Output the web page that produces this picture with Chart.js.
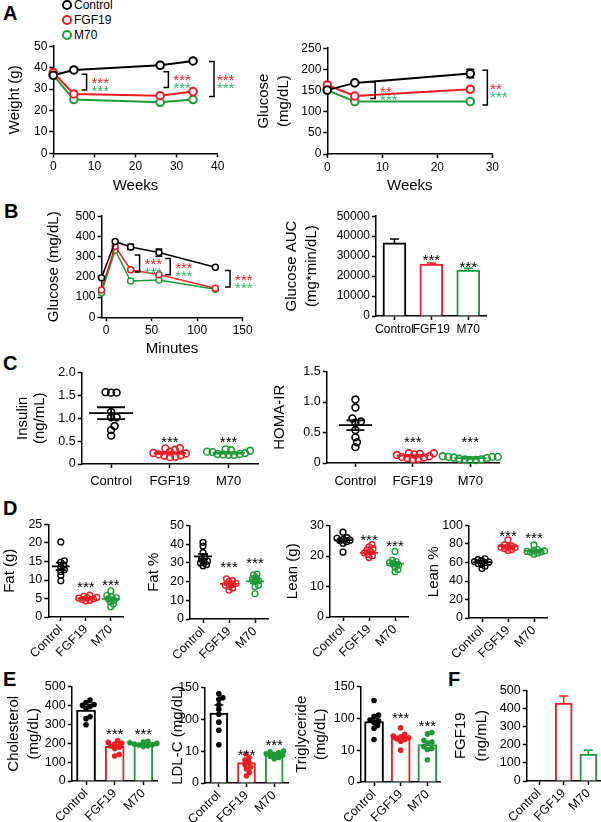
<!DOCTYPE html>
<html>
<head>
<meta charset="utf-8">
<script src="https://cdn.jsdelivr.net/npm/chart.js"></script>
<style>
  body { margin: 0; width: 601px; height: 822px; background: #fff; position: relative; overflow: hidden;
         font-family: "Liberation Sans", Arial, Helvetica, sans-serif; }
  canvas { position: absolute; }
  .letter { position: absolute; font-weight: bold; font-size: 20px; line-height: 20px; }
  .leg { position: absolute; left: 74px; font-size: 12px; line-height: 14px; white-space: nowrap; }
  .dot { position: absolute; left: 62px; width: 6px; height: 6px; border: 2px solid; border-radius: 50%; }
</style>
</head>
<body>
<div class="letter" style="left:3px;top:2.5px">A</div>
<div class="letter" style="left:4px;top:200.5px">B</div>
<div class="letter" style="left:3px;top:352.5px">C</div>
<div class="letter" style="left:3px;top:497.5px">D</div>
<div class="letter" style="left:3px;top:669px">E</div>
<div class="letter" style="left:448px;top:669px">F</div>

<div class="dot" style="top:0px;border-color:#000"></div><div class="leg" style="top:-2px">Control</div>
<div class="dot" style="top:15px;border-color:#ed1c24"></div><div class="leg" style="top:13px">FGF19</div>
<div class="dot" style="top:30px;border-color:#1e9a38"></div><div class="leg" style="top:28px">M70</div>

<script>
// ---------- data ----------
const groups = ['Control', 'FGF19', 'M70'];

// A: body weight / fasting glucose over time
const weightWeeks = [0, 5, 26, 34];
const weightControl = [36.4, 38.9, 41.1, 43.1];
const weightFGF19 = [37.7, 27.7, 26.9, 28.8];
const weightM70 = [36.4, 25.1, 23.8, 25.1];

const glucoseWeeks = [0, 5, 26];
const glucoseControl = [151, 168, 190];
const glucoseControlSem = [0, 4, 10];
const glucoseFGF19 = [163, 137, 153];
const glucoseM70 = [151, 124, 124];

// B: glucose tolerance test
const gttMinutes = [-5, 10, 27, 58, 120];
const gttControl = [195, 375, 348, 320, 248];
const gttControlSem = [0, 0, 13, 18, 0];
const gttFGF19 = [135, 351, 235, 211, 144];
const gttM70 = [122, 332, 179, 184, 139];

const aucMean = [36600, 26000, 23000];
const aucSem = [1950, 600, 900];

// C: insulin / HOMA-IR
const insulinControl = [1.56, 1.56, 1.57, 1.14, 1.02, 1.02, 0.83, 0.74, 0.62];
const insulinFGF19 = [0.35, 0.34, 0.31, 0.27, 0.24, 0.21, 0.18, 0.16, 0.15, 0.19, 0.23];
const insulinM70 = [0.32, 0.30, 0.29, 0.26, 0.24, 0.22, 0.21, 0.20, 0.20, 0.22, 0.27];
const insulinMean = [1.11, 0.24, 0.24];
const insulinSem = [0.13, 0.02, 0.01];

const homaControl = [1.04, 0.91, 0.73, 0.68, 0.66, 0.54, 0.42, 0.34, 0.26];
const homaFGF19 = [0.16, 0.16, 0.15, 0.13, 0.11, 0.09, 0.07, 0.06, 0.08, 0.10, 0.14];
const homaM70 = [0.11, 0.10, 0.10, 0.09, 0.07, 0.06, 0.05, 0.05, 0.06, 0.08, 0.10];
const homaMean = [0.62, 0.12, 0.08];
const homaSem = [0.08, 0.01, 0.01];

// D: body composition
const fatControl = [20.3, 15.2, 14.8, 14.0, 13.4, 12.8, 12.3, 11.3, 9.8];
const fatFGF19 = [5.9, 5.6, 5.3, 5.2, 5.1, 4.9, 4.7, 4.5, 4.3];
const fatM70 = [7.1, 5.8, 5.5, 5.2, 4.9, 4.5, 4.1, 3.5, 2.8];
const fatMean = [13.7, 5.0, 4.9];
const fatSem = [1.0, 0.2, 0.4];

const fatPctControl = [41, 39, 35.5, 33, 32, 31, 30.5, 30, 29, 28.5];
const fatPctFGF19 = [21.5, 20.5, 20, 19, 18.5, 18, 17.5, 16.5, 15.5];
const fatPctM70 = [24, 23.5, 22, 21.5, 20.5, 20, 18, 17.3, 13.5];
const fatPctMean = [33.5, 18.8, 20.1];
const fatPctSem = [1.3, 0.6, 1.1];

const leanControl = [27.8, 26, 25.8, 25.5, 25.2, 25, 24.7, 24.2, 21.3];
const leanFGF19 = [23.7, 23, 22.4, 22, 21.5, 21, 20.6, 20, 19.5];
const leanM70 = [21.5, 18.6, 18.2, 17.8, 17.4, 17, 16.4, 15.6, 14.8];
const leanMean = [25.2, 21.0, 17.5];
const leanSem = [0.6, 0.4, 0.6];

const leanPctControl = [64, 63, 62, 61, 60.5, 60, 59, 58, 56, 53.5];
const leanPctFGF19 = [84.5, 79, 78, 77, 76.5, 76, 75, 74, 73];
const leanPctM70 = [79, 74, 73, 72.5, 72, 71.5, 71, 70, 69];
const leanPctMean = [60.5, 77.5, 72.5];
const leanPctSem = [1.0, 1.1, 0.9];

// E: plasma lipids
const cholControl = [428, 415, 405, 400, 395, 385, 340, 330, 298];
const cholFGF19 = [213, 205, 200, 195, 185, 180, 172, 140, 132];
const cholM70 = [210, 206, 202, 199, 196, 193, 190, 186, 182];
const cholMean = [375, 183, 192];
const cholSem = [15, 10, 3];

const ldlControl = [140, 134, 131, 123, 116, 108, 92, 69, 28];
const ldlFGF19 = [9.1, 8.0, 7.2, 6.5, 5.7, 5.0, 4.4, 3.3, 2.3];
const ldlM70 = [10.2, 9.8, 9.5, 9.2, 9.0, 8.7, 8.4, 8.0, 7.6];
const ldlMean = [110, 6.4, 9.1];
const ldlSem = [12.5, 0.8, 0.3];

const tgControl = [128, 105, 103, 95, 92, 88, 80, 72, 40];
const tgFGF19 = [73, 55, 50, 48, 45, 42, 40, 35, 10];
const tgM70 = [60, 56, 38, 33, 30, 20, 15, 12, 7];
const tgMean = [91, 44, 26];
const tgSem = [8, 5, 6];

// F: plasma FGF19
const fgf19Mean = [0, 430, 149];
const fgf19Sem = [0, 39, 21];

// segmented axis (0-10, 10-100, 100-150) used by LDL-C and triglyceride
const segTicks = [0, 10, 100, 150];

// significance marks
const RED = '#ed1c24';
const GREEN = '#1e9a38';
const STAR_GREEN = '#2db56e';
const groupColors = ['#000000', RED, GREEN];

const weightBrackets = [
  {x: 8.1, y1: 36.9, y2: 29.5, sx: 9.3, rows: [['***', RED, 34.6], ['***', STAR_GREEN, 30.7]]},
  {x: 28.0, y1: 38.1, y2: 30.7, sx: 29.2, rows: [['***', RED, 36.1], ['***', STAR_GREEN, 32.0]]},
  {x: 39.1, y1: 42.8, y2: 26.5, sx: 39.8, rows: [['***', RED, 36.1], ['***', STAR_GREEN, 32.0]]}
];
const glucoseBrackets = [
  {x: 8.7, y1: 170, y2: 131, sx: 9.6, rows: [['**', RED, 155], ['***', STAR_GREEN, 135]]},
  {x: 29.1, y1: 198, y2: 116, sx: 29.6, rows: [['**', RED, 163], ['***', STAR_GREEN, 143]]}
];
const gttBrackets = [
  {x: 36.8, y1: 308, y2: 224, sx: 42.3, rows: [['***', RED, 279], ['***', STAR_GREEN, 238]]},
  {x: 70.4, y1: 291, y2: 211, sx: 75.9, rows: [['***', RED, 264], ['***', STAR_GREEN, 223]]},
  {x: 136.1, y1: 231, y2: 150, sx: 141.6, rows: [['***', RED, 200], ['***', STAR_GREEN, 163]]}
];
const aucStars = [[2, 29640], [3, 26370]];
const insulinStars = [[2, 0.56], [3, 0.56]];
const homaStars = [[2, 0.40], [3, 0.40]];
const fatStars = [[2, 9.1], [3, 9.6]];
const fatPctStars = [[2, 29.5], [3, 31.8]];
const leanStars = [[2, 26.5], [3, 24.4]];
const leanPctStars = [[2, 92.7], [3, 89.9]];
const cholStars = [[2, 269], [3, 269]];
const ldlStars = [[2, 9.9], [3, 37]];
const tgStars = [[2, 106], [3, 88]];

// ---------- helpers ----------
const FONT = '"Liberation Sans", Arial, Helvetica, sans-serif';
Chart.defaults.font.family = FONT;
Chart.defaults.color = '#000';

function seg(v) {
  return v <= 10 ? v / 10 : v <= 100 ? 1 + (v - 10) / 90 : 2 + (v - 100) / 50;
}
const same = v => v;

function axis(o) {
  const labels = o.labels || o.ticks.map(String);
  return {
    type: 'linear', min: o.min, max: o.max, offset: false,
    border: {color: '#000', width: 1.5},
    grid: {drawOnChartArea: false, offset: false, tickLength: 4, tickWidth: 1.5, tickColor: '#000'},
    afterBuildTicks: s => { s.ticks = o.ticks.map(v => ({value: v})); },
    ticks: {autoSkip: false, padding: o.pad ?? 2, minRotation: o.rot || 0, maxRotation: o.rot || 0,
      font: {size: o.size || 12}, color: '#000', callback: (v, i) => labels[i]},
    title: {display: !!o.title, text: o.title, color: '#000', padding: 0,
      font: {size: 15, lineHeight: o.lh || 1.2}}
  };
}

function catAxis(o) {
  return axis(Object.assign({min: 0.5, max: 3.5, ticks: [1, 2, 3], labels: groups, size: 13}, o));
}

function drawStars(ctx, text, x, y, color, align) {
  ctx.font = '15px ' + FONT;
  ctx.fillStyle = color;
  ctx.textAlign = align;
  ctx.textBaseline = 'alphabetic';
  ctx.fillText(text, x, y + 8.6);
}

// brackets, error bars, mean lines and stars (option objects hold no functions: Chart.js would call them)
const marksPlugin = {
  id: 'marks',
  beforeDatasetsDraw(chart) {
    const m = chart.options.plugins.marks || {};
    const {ctx} = chart;
    const sx = chart.scales.x, sy = chart.scales.y;
    const tf = m.segmented ? seg : same;
    (m.errors || []).forEach(e => {
      ctx.save();
      ctx.lineWidth = 1.5;
      e.xs.forEach((xv, i) => {
        if (!e.sem[i]) return;
        ctx.strokeStyle = e.colors[i];
        const px = sx.getPixelForValue(xv);
        const hi = sy.getPixelForValue(tf(e.mean[i] + e.sem[i]));
        const lo = sy.getPixelForValue(tf(e.up ? e.mean[i] : e.mean[i] - e.sem[i]));
        ctx.beginPath();
        ctx.moveTo(px, lo); ctx.lineTo(px, hi);
        ctx.moveTo(px - e.cap, hi); ctx.lineTo(px + e.cap, hi);
        if (!e.up) { ctx.moveTo(px - e.cap, lo); ctx.lineTo(px + e.cap, lo); }
        ctx.stroke();
      });
      ctx.restore();
    });
  },
  afterDatasetsDraw(chart) {
    const m = chart.options.plugins.marks || {};
    const {ctx} = chart;
    const sx = chart.scales.x, sy = chart.scales.y;
    const tf = m.segmented ? seg : same;
    ctx.save();
    (m.brackets || []).forEach(b => {
      const px = sx.getPixelForValue(b.x);
      const y1 = sy.getPixelForValue(b.y1), y2 = sy.getPixelForValue(b.y2);
      ctx.strokeStyle = '#000';
      ctx.lineWidth = 1.5;
      ctx.beginPath();
      ctx.moveTo(px - 5, y1); ctx.lineTo(px, y1); ctx.lineTo(px, y2); ctx.lineTo(px - 5, y2);
      ctx.stroke();
      b.rows.forEach(r => drawStars(ctx, r[0], sx.getPixelForValue(b.sx), sy.getPixelForValue(r[2]), r[1], 'left'));
    });
    if (m.means) {
      const mm = m.means;
      ctx.lineWidth = 1.8;
      mm.mean.forEach((v, i) => {
        const px = sx.getPixelForValue(i + 1);
        const py = sy.getPixelForValue(v);
        const hi = sy.getPixelForValue(v + mm.sem[i]), lo = sy.getPixelForValue(v - mm.sem[i]);
        ctx.strokeStyle = groupColors[i];
        ctx.beginPath();
        ctx.moveTo(px - mm.half[i], py); ctx.lineTo(px + mm.half[i], py);
        ctx.moveTo(px, hi); ctx.lineTo(px, lo);
        ctx.moveTo(px - mm.semHalf, hi); ctx.lineTo(px + mm.semHalf, hi);
        ctx.moveTo(px - mm.semHalf, lo); ctx.lineTo(px + mm.semHalf, lo);
        ctx.stroke();
      });
    }
    (m.stars || []).forEach(s => drawStars(ctx, '***', sx.getPixelForValue(s[0]), sy.getPixelForValue(tf(s[1])), '#000', 'center'));
    ctx.restore();
  }
};

function makePanel(p) {
  const lh = 15 * (p.titleLH || 1.2);
  const left = Math.round(p.titleX - lh / 2);
  const top = Math.round(p.y - p.top);
  const yw = p.x - left;
  const padTop = p.y - top;
  const cw = Math.ceil(yw + p.w + p.right);
  const ch = Math.ceil(padTop + p.h + p.xh);
  const canvas = document.createElement('canvas');
  canvas.width = cw; canvas.height = ch;
  canvas.style.left = left + 'px';
  canvas.style.top = top + 'px';
  canvas.style.width = cw + 'px';
  canvas.style.height = ch + 'px';
  document.body.appendChild(canvas);
  p.xAxis.afterFit = s => { s.height = p.xh; };
  p.yAxis.afterFit = s => { s.width = yw; };
  return new Chart(canvas, {
    type: p.type,
    data: {datasets: p.datasets},
    options: {
      responsive: false, animation: false, devicePixelRatio: 1,
      layout: {autoPadding: false, padding: {left: 0, top: padTop, right: cw - yw - p.w, bottom: 0}},
      scales: {x: p.xAxis, y: p.yAxis},
      plugins: {legend: {display: false}, tooltip: {enabled: false}, marks: p.marks || {}}
    },
    plugins: [marksPlugin]
  });
}

function lineSets(xVals, series, r, bw) {
  return series.map((vals, g) => ({
    data: vals.map((v, i) => ({x: xVals[i], y: v})),
    borderColor: groupColors[g], borderWidth: bw, tension: 0, clip: false,
    pointRadius: r, pointBorderWidth: bw, pointBackgroundColor: '#fff', pointBorderColor: groupColors[g]
  }));
}

// beeswarm offsets (like Prism's scatter dot plot), returned in category units
function swarmX(values, cat, pxPerUnit, pxPerCat, gap) {
  const placed = [];
  const xs = new Array(values.length);
  const order = values.map((v, i) => i).sort((a, b) => values[a] - values[b]);
  order.forEach(i => {
    const py = values[i] * pxPerUnit;
    let off = 0;
    for (let k = 0; k < 600; k++) {
      off = (k % 2 ? 1 : -1) * Math.ceil(k / 2) * 0.5;
      if (placed.every(q => (q.x - off) ** 2 + (q.y - py) ** 2 >= gap * gap)) break;
    }
    placed.push({x: off, y: py});
    xs[i] = cat + off / pxPerCat;
  });
  return xs;
}

function dotSets(series, p, o) {
  const tf = o.segmented ? seg : same;
  const pxPerUnit = p.h / (o.ymax - o.ymin);
  const pxPerCat = p.w / 3;
  return series.map((vals, g) => {
    const tv = vals.map(tf);
    const xs = swarmX(tv, g + 1, pxPerUnit, pxPerCat, o.gap);
    return {
      type: 'scatter', order: 1, clip: false,
      data: tv.map((v, i) => ({x: xs[i], y: v})),
      pointRadius: o.r, pointBorderWidth: o.bw, pointBorderColor: groupColors[g],
      pointBackgroundColor: o.filled ? groupColors[g] : 'rgba(0,0,0,0)'
    };
  });
}

function barSet(mean, segmented, thickness) {
  const tf = segmented ? seg : same;
  return {
    type: 'bar', order: 2,
    data: mean.map((v, i) => ({x: i + 1, y: tf(v)})),
    backgroundColor: '#fff', borderColor: groupColors, borderWidth: 2,
    barThickness: thickness, borderSkipped: 'start'
  };
}

// ---------- A ----------
makePanel({
  x: 53.3, y: 45, w: 164.4, h: 108.3, titleX: 14.5, top: 8, right: 24, xh: 41.7, type: 'line',
  datasets: lineSets(weightWeeks, [weightControl, weightFGF19, weightM70], 3.8, 2),
  xAxis: axis({min: 0, max: 40, ticks: [0, 10, 20, 30, 40], title: 'Weeks'}),
  yAxis: axis({min: 0, max: 50, ticks: [0, 10, 20, 30, 40, 50], title: 'Weight (g)'}),
  marks: {brackets: weightBrackets}
});

makePanel({
  x: 327.3, y: 46.7, w: 165, h: 107.3, titleX: 264, titleLH: 1.333, top: 8, right: 24, xh: 41, type: 'line',
  datasets: lineSets(glucoseWeeks, [glucoseControl, glucoseFGF19, glucoseM70], 3.8, 2),
  xAxis: axis({min: 0, max: 30, ticks: [0, 10, 20, 30], title: 'Weeks'}),
  yAxis: axis({min: 0, max: 250, ticks: [0, 50, 100, 150, 200, 250], title: ['Glucose', '(mg/dL)'], lh: 1.333}),
  marks: {brackets: glucoseBrackets,
    errors: [{xs: glucoseWeeks, mean: glucoseControl, sem: glucoseControlSem, colors: ['#000', '#000', '#000'], cap: 4}]}
});

// ---------- B ----------
makePanel({
  x: 101.5, y: 213.3, w: 141.2, h: 104, titleX: 53.5, top: 6, right: 22, xh: 40.7, type: 'line',
  datasets: lineSets(gttMinutes, [gttControl, gttFGF19, gttM70], 3, 1.5),
  xAxis: axis({min: -5, max: 150, ticks: [0, 50, 100, 150], title: 'Minutes'}),
  yAxis: axis({min: 0, max: 500, ticks: [0, 100, 200, 300, 400, 500], title: 'Glucose (mg/dL)'}),
  marks: {brackets: gttBrackets,
    errors: [{xs: gttMinutes, mean: gttControl, sem: gttControlSem, colors: Array(5).fill('#000'), cap: 3.5}]}
});

makePanel({
  x: 376, y: 213.3, w: 110.7, h: 102.4, titleX: 291.5, titleLH: 1.333, top: 6, right: 8, xh: 22, type: 'bar',
  datasets: [barSet(aucMean, false, 23)],
  xAxis: catAxis({size: 12, pad: 2}),
  yAxis: axis({min: 0, max: 50000, ticks: [0, 10000, 20000, 30000, 40000, 50000],
    title: ['Glucose AUC', '(mg*min/dL)'], lh: 1.333}),
  marks: {stars: aucStars,
    errors: [{xs: [1, 2, 3], mean: aucMean, sem: aucSem, colors: groupColors, cap: 4.5, up: true}]}
});

// ---------- C ----------
{
  const p = {x: 81.7, y: 369, w: 176.3, h: 94.3};
  makePanel(Object.assign(p, {
    titleX: 22.5, titleLH: 1.17, top: 6, right: 6, xh: 26, type: 'scatter',
    datasets: dotSets([insulinControl, insulinFGF19, insulinM70], p, {ymin: 0, ymax: 2, gap: 5.2, r: 3.4, bw: 1.6}),
    xAxis: catAxis({pad: 6}),
    yAxis: axis({min: 0, max: 2, ticks: [0, 0.5, 1, 1.5, 2], labels: ['0', '0.5', '1.0', '1.5', '2.0'],
      size: 12.5, title: ['Insulin', '(ng/mL)'], lh: 1.17}),
    marks: {stars: insulinStars, means: {mean: insulinMean, sem: insulinSem, half: [22, 16, 16], semHalf: 14}}
  }));
}
{
  const p = {x: 326.7, y: 367.7, w: 172.3, h: 94.6};
  makePanel(Object.assign(p, {
    titleX: 280, top: 6, right: 6, xh: 26, type: 'scatter',
    datasets: dotSets([homaControl, homaFGF19, homaM70], p, {ymin: 0, ymax: 1.5, gap: 5.2, r: 3.4, bw: 1.6}),
    xAxis: catAxis({pad: 7}),
    yAxis: axis({min: 0, max: 1.5, ticks: [0, 0.5, 1, 1.5], labels: ['0', '0.5', '1.0', '1.5'],
      size: 12.5, title: 'HOMA-IR'}),
    marks: {stars: homaStars, means: {mean: homaMean, sem: homaSem, half: [16.5, 16, 16], semHalf: 9}}
  }));
}

// ---------- D ----------
function bodyPanel(p, series, mean, sem, stars, ymax, ticks, title) {
  makePanel(Object.assign(p, {
    top: 6, right: 4, xh: 46, type: 'scatter',
    datasets: dotSets(series, p, {ymin: 0, ymax, gap: 3.6, r: 2.9, bw: 1.4}),
    xAxis: catAxis({rot: 45, size: 12.5, pad: 1}),
    yAxis: axis({min: 0, max: ymax, ticks, size: 12.5, title}),
    marks: {stars, means: {mean, sem, half: [9, 9, 9], semHalf: 5}}
  }));
}
bodyPanel({x: 48.3, y: 521, w: 75, h: 95.7, titleX: 9.5}, [fatControl, fatFGF19, fatM70],
  fatMean, fatSem, fatStars, 25, [0, 5, 10, 15, 20, 25], 'Fat (g)');
bodyPanel({x: 190, y: 522.3, w: 78, h: 96, titleX: 154}, [fatPctControl, fatPctFGF19, fatPctM70],
  fatPctMean, fatPctSem, fatPctStars, 50, [0, 10, 20, 30, 40, 50], 'Fat %');
bodyPanel({x: 330, y: 522.3, w: 78, h: 94.4, titleX: 292.5}, [leanControl, leanFGF19, leanM70],
  leanMean, leanSem, leanStars, 30, [0, 10, 20, 30], 'Lean (g)');
bodyPanel({x: 469, y: 522, w: 78, h: 96, titleX: 434}, [leanPctControl, leanPctFGF19, leanPctM70],
  leanPctMean, leanPctSem, leanPctStars, 100, [0, 20, 40, 60, 80, 100], 'Lean %');

// ---------- E ----------
function lipidPanel(p, series, mean, sem, stars, yAxis, segmented, ymax, thickness) {
  makePanel(Object.assign(p, {
    top: 6, right: 4, xh: 42, type: 'bar',
    datasets: [barSet(mean, segmented, thickness)].concat(
      dotSets(series, p, {ymin: 0, ymax, gap: 4.4, r: 2.8, bw: 0, filled: true, segmented})),
    xAxis: catAxis({rot: 45, size: 12.5, pad: 1}),
    yAxis,
    marks: {segmented, stars,
      errors: [{xs: [1, 2, 3], mean, sem, colors: groupColors, cap: 4.5, up: true}]}
  }));
}
lipidPanel({x: 71.7, y: 683.3, w: 86, h: 97.4, titleX: 13.5, titleLH: 1.333},
  [cholControl, cholFGF19, cholM70], cholMean, cholSem, cholStars,
  axis({min: 0, max: 500, ticks: [0, 100, 200, 300, 400, 500], size: 12.5, title: ['Cholesterol', '(mg/dL)'], lh: 1.333}),
  false, 500, 19);
lipidPanel({x: 205, y: 684, w: 83, h: 98.7, titleX: 178},
  [ldlControl, ldlFGF19, ldlM70], ldlMean, ldlSem, ldlStars,
  axis({min: 0, max: 3, ticks: segTicks.map(seg), labels: segTicks.map(String), size: 12.5, title: 'LDL-C (mg/dL)'}),
  true, 3, 18);
lipidPanel({x: 360.7, y: 682.7, w: 80, h: 99, titleX: 302, titleLH: 1.3},
  [tgControl, tgFGF19, tgM70], tgMean, tgSem, tgStars,
  axis({min: 0, max: 3, ticks: segTicks.map(seg), labels: segTicks.map(String), size: 12.5,
    title: ['Triglyceride', '(mg/dL)'], lh: 1.3}),
  true, 3, 19);

// ---------- F ----------
makePanel({
  x: 526.7, y: 686.7, w: 74, h: 93.3, titleX: 461, titleLH: 1.37, top: 6, right: 0, xh: 42, type: 'bar',
  datasets: [barSet(fgf19Mean, false, 17)],
  xAxis: catAxis({rot: 45, size: 12.5, pad: 1}),
  yAxis: axis({min: 0, max: 500, ticks: [0, 100, 200, 300, 400, 500], size: 12.5,
    title: ['FGF19', '(ng/mL)'], lh: 1.37}),
  marks: {errors: [{xs: [1, 2, 3], mean: fgf19Mean, sem: fgf19Sem, colors: groupColors, cap: 4.5, up: true}]}
});
</script>
</body>
</html>
